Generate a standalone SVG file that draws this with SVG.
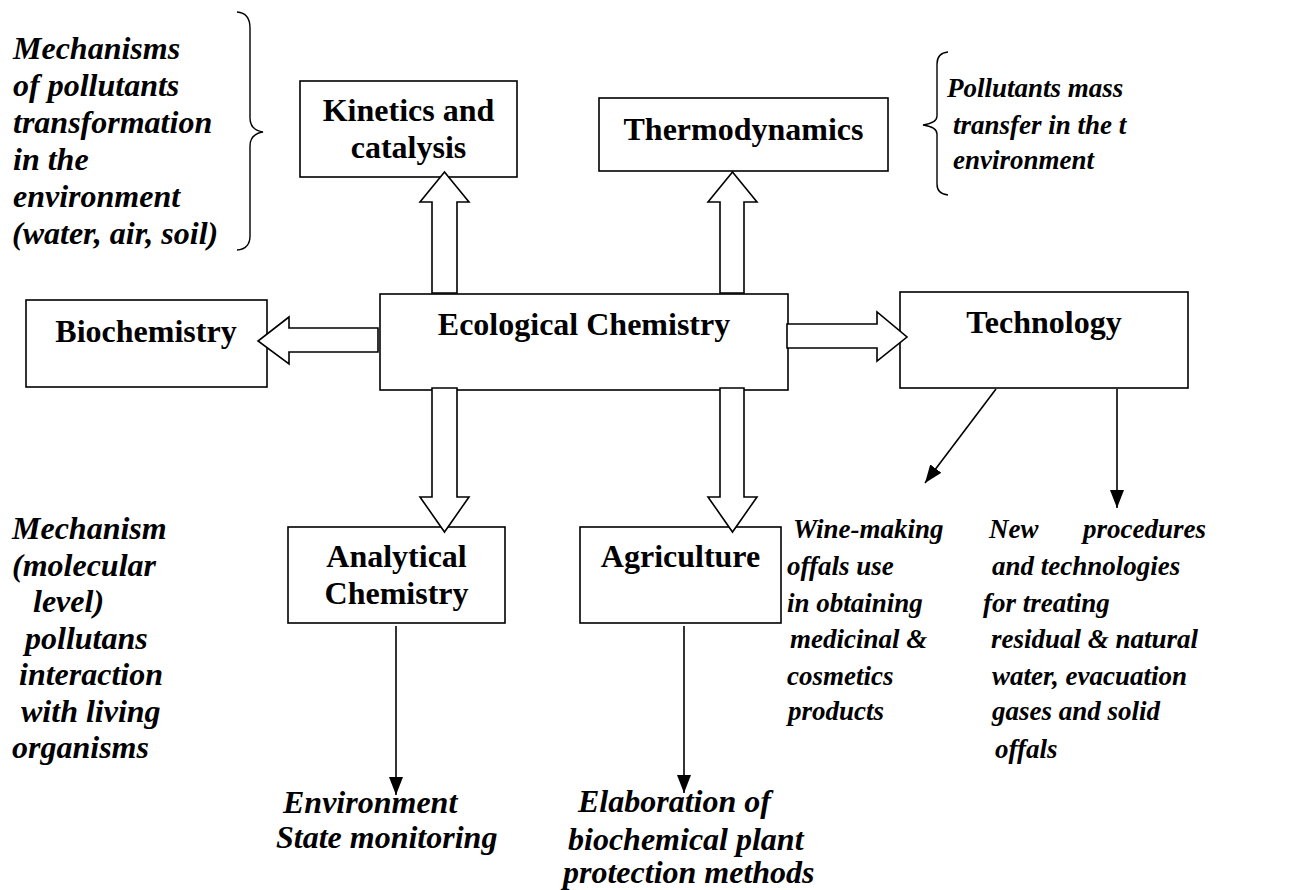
<svg xmlns="http://www.w3.org/2000/svg" width="1300" height="890" viewBox="0 0 1300 890">
<defs>
<style>
.box{fill:#fff;stroke:#000;stroke-width:1.6}
.hol{fill:#fff;stroke:#000;stroke-width:1.6;stroke-linejoin:miter}
.ln{fill:none;stroke:#000;stroke-width:1.6}
.br{fill:none;stroke:#000;stroke-width:1.4}
.b{font-family:"Liberation Serif","Times New Roman",serif;font-weight:bold;font-size:32px;fill:#000}
.i{font-family:"Liberation Serif","Times New Roman",serif;font-weight:bold;font-style:italic;font-size:32px;fill:#000}
.s{font-size:27px}
.c{text-anchor:middle}
</style>
<marker id="ah" viewBox="0 0 10 10" refX="10" refY="5" markerWidth="10" markerHeight="10" markerUnits="userSpaceOnUse" orient="auto">
<path d="M0,0 L10,5 L0,10 Z" fill="#000"/>
</marker>
<marker id="ahL" viewBox="0 0 18 14" refX="18" refY="7" markerWidth="18" markerHeight="14" markerUnits="userSpaceOnUse" orient="auto">
<path d="M0,0 L18,7 L0,14 Z" fill="#000"/>
</marker>
</defs>
<rect width="1300" height="890" fill="#fff"/>

<g id="node-ecological-chemistry">
<rect class="box" x="380" y="294" width="408" height="96"/>
<text class="b c" x="584" y="335">Ecological Chemistry</text>
</g>
<g id="node-kinetics">
<rect class="box" x="300" y="81" width="217" height="96"/>
<text class="b c" x="408.5" y="121">Kinetics and</text>
<text class="b c" x="408.5" y="158">catalysis</text>
</g>
<g id="node-thermodynamics">
<rect class="box" x="599" y="98" width="289" height="73"/>
<text class="b c" x="743.5" y="140">Thermodynamics</text>
</g>
<g id="node-biochemistry">
<rect class="box" x="26" y="300" width="241" height="87"/>
<text class="b c" x="146" y="342">Biochemistry</text>
</g>
<g id="node-technology">
<rect class="box" x="900" y="292" width="288" height="96"/>
<text class="b c" x="1044" y="333">Technology</text>
</g>
<g id="node-analytical">
<rect class="box" x="288" y="527" width="217" height="96"/>
<text class="b c" x="396.5" y="567">Analytical</text>
<text class="b c" x="396.5" y="604">Chemistry</text>
</g>
<g id="node-agriculture">
<rect class="box" x="580" y="527" width="201" height="96"/>
<text class="b c" x="680.5" y="567">Agriculture</text>
</g>

<g id="note-mechanisms-transformation">
<path class="br" d="M237,12 Q250,13 250,28 L250,118 Q250,130 263,132 Q250,134 250,146 L250,236 Q250,249 237,250"/>
<text class="i" x="13" y="59">Mechanisms</text>
<text class="i" x="13" y="96">of pollutants</text>
<text class="i" x="13" y="133">transformation</text>
<text class="i" x="13" y="170">in the</text>
<text class="i" x="13" y="207">environment</text>
<text class="i" x="12" y="244">(water, air, soil)</text>
</g>
<g id="note-mass-transfer">
<path class="br" d="M948,52 Q937,53 937,64 L937,116 Q937,123 923,125 Q937,127 937,134 L937,184 Q937,194 948,195"/>
<text class="i s" x="947" y="97">Pollutants mass</text>
<text class="i s" x="953" y="134">transfer in the t</text>
<text class="i s" x="953" y="169">environment</text>
</g>
<g id="note-molecular">
<text class="i" x="12" y="539">Mechanism</text>
<text class="i" x="12" y="576">(molecular</text>
<text class="i" x="33" y="612">level)</text>
<text class="i" x="25" y="649">pollutans</text>
<text class="i" x="19" y="685">interaction</text>
<text class="i" x="21" y="722">with living</text>
<text class="i" x="12" y="758">organisms</text>
</g>
<g id="note-monitoring">
<text class="i" x="283" y="813">Environment</text>
<text class="i" x="276" y="848">State monitoring</text>
</g>
<g id="note-plant-protection">
<text class="i" x="578" y="812">Elaboration of</text>
<text class="i" x="568" y="850">biochemical plant</text>
<text class="i" x="563" y="883">protection methods</text>
</g>
<g id="note-wine-making">
<text class="i s" x="793" y="538">Wine-making</text>
<text class="i s" x="787" y="575">offals use</text>
<text class="i s" x="787" y="612">in obtaining</text>
<text class="i s" x="790" y="648">medicinal &amp;</text>
<text class="i s" x="787" y="685">cosmetics</text>
<text class="i s" x="788" y="720">products</text>
</g>
<g id="note-new-procedures">
<text class="i s" y="538"><tspan x="989">New</tspan><tspan x="1083">procedures</tspan></text>
<text class="i s" x="992" y="575">and technologies</text>
<text class="i s" x="983" y="612">for treating</text>
<text class="i s" x="991" y="648">residual &amp; natural</text>
<text class="i s" x="992" y="685">water, evacuation</text>
<text class="i s" x="992" y="720">gases and solid</text>
<text class="i s" x="995" y="758">offals</text>
</g>

<g id="connectors">
<polygon class="hol" points="432,293 432,202 420,202 444.5,172 469,202 457,202 457,293"/>
<polygon class="hol" points="720,293 720,202 708,202 732.5,172 757,202 744,202 744,293"/>
<polygon class="hol" points="432,388 432,497 420,497 444.5,532 469,497 457,497 457,388"/>
<polygon class="hol" points="720,388 720,497 708,497 732.5,532 757,497 744,497 744,388"/>
<polygon class="hol" points="378,328 289,328 289,317 258,341 289,364 289,352 378,352"/>
<polygon class="hol" points="787,324 877,324 877,312 907,337 877,361 877,348 787,348"/>
<line class="ln" x1="396" y1="626" x2="396" y2="795" marker-end="url(#ahL)"/>
<line class="ln" x1="684" y1="626" x2="684" y2="793" marker-end="url(#ahL)"/>
<line class="ln" x1="996" y1="389" x2="925" y2="483" marker-end="url(#ahL)"/>
<line class="ln" x1="1117" y1="389" x2="1117" y2="508" marker-end="url(#ahL)"/>
</g>
</svg>
